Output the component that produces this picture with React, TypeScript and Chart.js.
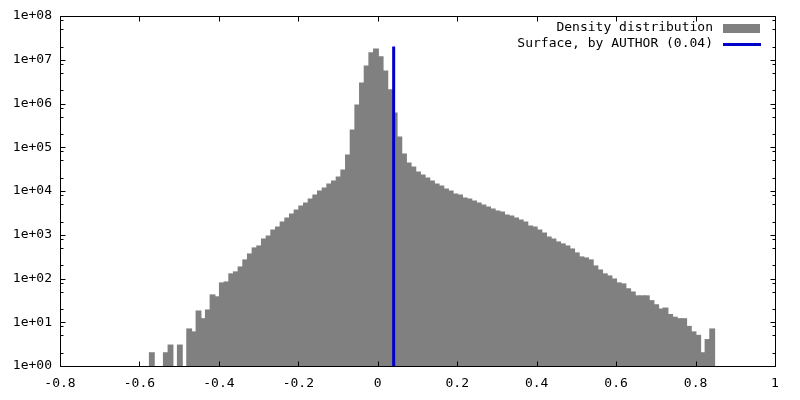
import React, { useEffect, useRef } from "react";
import { Chart, registerables } from "chart.js";

Chart.register(...registerables);

// Histogram bins (left edge of first bin, bin width) and counts per bin
const binStart = -0.5747;
const binWidth = 0.011756;
const counts: (number | null)[] = [
  2, null, null, 2, 3, null, 3, null, 7, 6, 18, 12, 19, 42, 38, 79, 83,
  127, 141, 183, 265, 363, 498, 553, 800, 936, 1284, 1500, 1955, 2414, 2980, 3680, 4540, 5320, 6560, 8100,
  10000, 11700, 14450, 16900, 20900, 30200, 66500, 248000, 925000, 2940000, 7200000, 14300000, 17600000,
  11600000, 5530000, 2040000, 607000, 171000,
  70100, 43600, 35400, 27200, 23200, 19800, 16900, 14450, 13000, 11100, 10000, 8540, 8100, 6920, 6560,
  5900, 5320, 4790, 4310, 3880, 3490, 3310, 2830,
  2680, 2414, 2170, 1955, 1585, 1500, 1284, 1097, 889, 800, 683, 615, 553, 472, 383, 310, 294, 265, 193,
  156, 127, 114,
  97, 79, 75, 58, 49, 40, 40, 40, 31, 25, 20, 21, 15, 13, 12, 12, 8, 6, 5, 2, 4, 7,
];

// Vertical marker line
const surfaceX = 0.04;
const surfaceTop = 2e7;

// Axis ticks
const xTicks = [-0.8, -0.6, -0.4, -0.2, 0, 0.2, 0.4, 0.6, 0.8, 1];
const yDecades = [0, 1, 2, 3, 4, 5, 6, 7, 8];
const yMinorFactors = [2, 5, 8];

const seriesLabels = ["Density distribution", "Surface, by AUTHOR (0.04)"];
const barColor = "#808080";
const lineColor = "#0000c8";
const FONT = '13px "DejaVu Sans Mono"';

const frameAndLegend = {
  id: "frameAndLegend",
  afterDatasetsDraw(chart: any) {
    const { ctx, chartArea: a, scales } = chart;
    const xs = scales.x;
    const ys = scales.y;
    ctx.save();
    ctx.strokeStyle = "#000";
    ctx.lineWidth = 1;
    ctx.beginPath();
    ctx.rect(a.left + 0.5, a.top + 0.5, a.right - a.left, a.bottom - a.top);
    ctx.stroke();
    ctx.beginPath();
    const major = 5;
    const minor = 3;
    for (const v of xTicks) {
      const px = Math.round(xs.getPixelForValue(v)) + 0.5;
      ctx.moveTo(px, a.bottom + 0.5);
      ctx.lineTo(px, a.bottom + 0.5 - major);
      ctx.moveTo(px, a.top + 0.5);
      ctx.lineTo(px, a.top + 0.5 + major);
    }
    for (const d of yDecades) {
      const py = Math.round(ys.getPixelForValue(Math.pow(10, d))) + 0.5;
      ctx.moveTo(a.left + 0.5, py);
      ctx.lineTo(a.left + 0.5 + major, py);
      ctx.moveTo(a.right + 0.5, py);
      ctx.lineTo(a.right + 0.5 - major, py);
      if (d < 8) {
        for (const f of yMinorFactors) {
          const pm = Math.round(ys.getPixelForValue(f * Math.pow(10, d))) + 0.5;
          ctx.moveTo(a.left + 0.5, pm);
          ctx.lineTo(a.left + 0.5 + minor, pm);
          ctx.moveTo(a.right + 0.5, pm);
          ctx.lineTo(a.right + 0.5 - minor, pm);
        }
      }
    }
    ctx.stroke();

    // legend (gnuplot style: text right-aligned, sample to the right)
    const ds = chart.data.datasets;
    ctx.font = FONT;
    ctx.fillStyle = "#000";
    ctx.textAlign = "right";
    ctx.textBaseline = "middle";
    ctx.fillText(ds[1].label, 713, 28);
    ctx.fillText(ds[0].label, 713, 44);
    ctx.fillStyle = barColor;
    ctx.fillRect(723, 24, 37, 9);
    ctx.strokeStyle = lineColor;
    ctx.lineWidth = 3;
    ctx.beginPath();
    ctx.moveTo(723, 44.5);
    ctx.lineTo(761, 44.5);
    ctx.stroke();
    ctx.restore();
  },
};

export default function App() {
  const ref = useRef<HTMLCanvasElement | null>(null);
  useEffect(() => {
    document.body.style.margin = "0";
    const canvas = ref.current;
    if (!canvas) return;
    const barData = counts.map((c, i) => ({ x: binStart + binWidth * (i + 0.5), y: c }));
    const chart = new Chart(canvas, {
      type: "bar",
      data: {
        datasets: [
          {
            type: "line",
            label: seriesLabels[1],
            data: [
              { x: surfaceX, y: 1 },
              { x: surfaceX, y: surfaceTop },
            ],
            borderColor: lineColor,
            borderWidth: 3,
            pointRadius: 0,
            fill: false,
            order: -1,
          } as any,
          {
            type: "bar",
            label: seriesLabels[0],
            data: barData as any,
            backgroundColor: barColor,
            borderWidth: 0,
            inflateAmount: 0.6,
            barPercentage: 1,
            categoryPercentage: 1,
            order: 1,
          },
        ],
      },
      options: {
        responsive: false,
        animation: false,
        events: [],
        layout: { padding: { top: 16, right: 25, left: 0, bottom: 0 } },
        plugins: { legend: { display: false }, tooltip: { enabled: false } },
        font: { family: "DejaVu Sans Mono", size: 13 },
        scales: {
          x: {
            type: "linear",
            min: -0.8,
            max: 1,
            offset: false,
            grid: { display: false, drawTicks: false },
            border: { display: false },
            afterBuildTicks: (s: any) => {
              s.ticks = xTicks.map((v) => ({ value: v }));
            },
            afterFit: (s: any) => {
              s.height = 34;
            },
            ticks: {
              padding: 10,
              color: "#000",
              maxRotation: 0,
              autoSkip: false,
              font: { family: "DejaVu Sans Mono", size: 13 },
              callback: (v: any) => String(Number(Number(v).toFixed(1))),
            },
          },
          y: {
            type: "logarithmic",
            min: 1,
            max: 1e8,
            grid: { display: false, drawTicks: false },
            border: { display: false },
            afterBuildTicks: (s: any) => {
              s.ticks = yDecades.map((d) => ({ value: Math.pow(10, d) }));
            },
            afterFit: (s: any) => {
              s.width = 60;
            },
            ticks: {
              padding: 8,
              color: "#000",
              autoSkip: false,
              font: { family: "DejaVu Sans Mono", size: 13 },
              callback: (v: any) =>
                "1e+" + String(Math.round(Math.log10(Number(v)))).padStart(2, "0"),
            },
          },
        },
      } as any,
      plugins: [frameAndLegend],
    });
    return () => chart.destroy();
  }, []);
  return (
    <div style={{ position: "absolute", left: 0, top: 0, width: 800, height: 400, background: "#fff" }}>
      <canvas ref={ref} width={800} height={400} style={{ width: 800, height: 400, display: "block" }} />
    </div>
  );
}
